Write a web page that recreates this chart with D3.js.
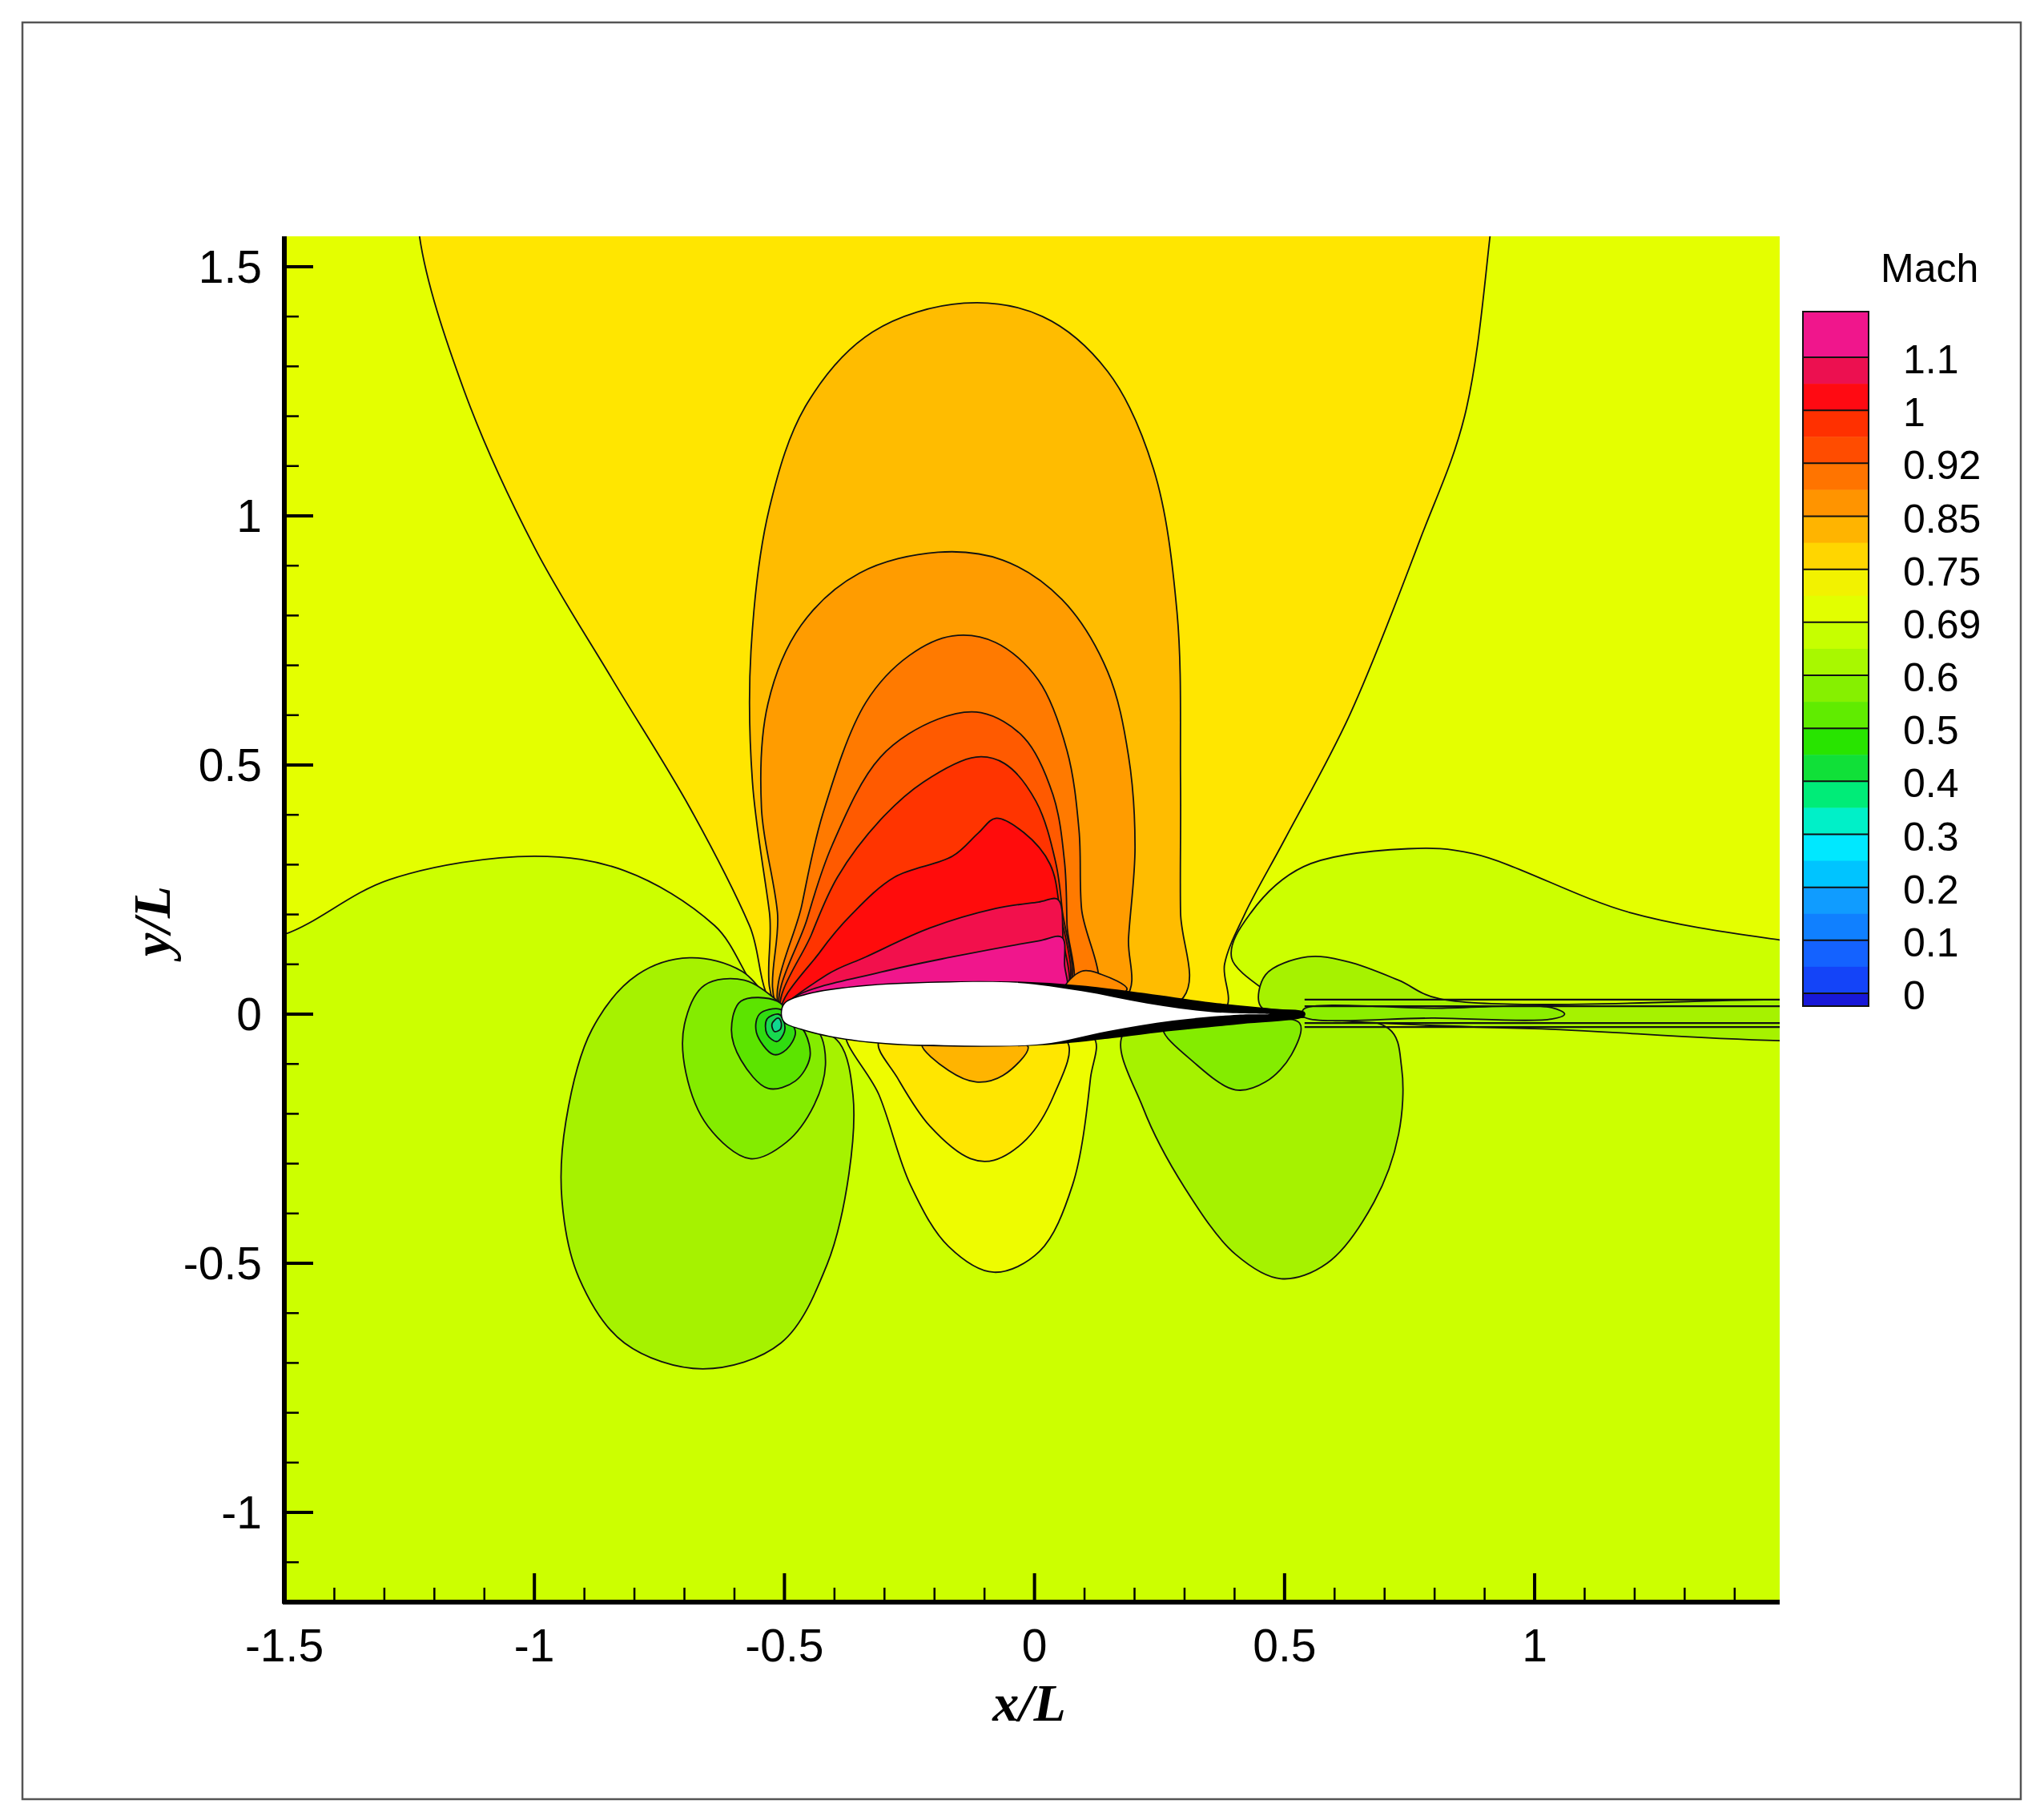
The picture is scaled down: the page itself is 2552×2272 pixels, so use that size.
<!DOCTYPE html>
<html>
<head>
<meta charset="utf-8">
<script src="https://cdn.jsdelivr.net/npm/d3@7"></script>
<style>
  body { margin: 0; background: #fff; }
  svg { display: block; }
</style>
</head>
<body>
<div id="container"></div>
<script>
// colour legend levels (top to bottom) and the two shades inside each band
const levelLabels = ["1.1", "1", "0.92", "0.85", "0.75", "0.69", "0.6", "0.5", "0.4", "0.3", "0.2", "0.1", "0"];
const bandColors = ["#f0168c",
  "#ec1050", "#ff0a12", "#ff3000", "#ff4c00", "#ff7400", "#ff9400", "#ffb400", "#ffd600",
  "#f2f200", "#e2ff00", "#c6ff00", "#a8f800", "#86f000", "#60ec00", "#28e400", "#10e038",
  "#00ec78", "#00f0c8", "#00e8ff", "#00c4ff", "#109cff", "#1080ff", "#1462ff", "#1444f8", "#1020e0"];

const xTicks = [-1.5, -1, -0.5, 0, 0.5, 1];
const yTicks = [-1, -0.5, 0, 0.5, 1, 1.5];

// contour regions, in x/L, y/L, painted in this order
const upperFar = [[-1.68,2.56],[-1.68,0.126],[-1.5,0.16],[-1.29,0.27],[-1.0,0.317],[-0.82,0.288],[-0.64,0.178],[-0.505,0],
  [0.016,-0.03],[0.51,-0.005],[0.394,0.113],[0.433,0.204],[0.538,0.296],[0.747,0.332],[0.877,0.322],[1.19,0.204],[1.49,0.149],[1.71,0.126],[1.71,2.56]];
const fan075 = [[-1.23,1.775],[-1.23,1.563],[-1.14,1.25],[-1.0,0.937],[-0.846,0.675],[-0.689,0.414],[-0.57,0.178],[-0.505,0],[0.016,-0.03],
  [0.38,0.008],[0.38,0.1],[0.42,0.2],[0.5,0.35],[0.63,0.6],[0.77,0.95],[0.86,1.2],[0.911,1.563],[0.93,1.775]];
const dome80 = [[-0.505,0],[-0.53,0.204],[-0.564,0.466],[-0.567,0.728],[-0.53,1.016],[-0.455,1.225],[-0.324,1.369],[-0.141,1.427],
  [0.016,1.40],[0.146,1.29],[0.238,1.094],[0.285,0.806],[0.292,0.466],[0.292,0.204],[0.298,0.034],[0.016,-0.045]];
const dome85 = [[-0.505,0],[-0.514,0.204],[-0.546,0.414],[-0.533,0.623],[-0.467,0.78],[-0.35,0.885],[-0.193,0.927],[-0.063,0.911],
  [0.055,0.832],[0.146,0.688],[0.188,0.518],[0.201,0.335],[0.188,0.152],[0.183,0.034],[-0.115,-0.045]];
const dome88 = [[-0.505,0],[-0.465,0.22],[-0.423,0.403],[-0.337,0.626],[-0.25,0.72],[-0.164,0.759],[-0.078,0.746],[0.008,0.67],
  [0.065,0.529],[0.089,0.369],[0.094,0.212],[0.12,0.034],[-0.193,-0.045]];
const dome92 = [[-0.505,0],[-0.455,0.19],[-0.405,0.338],[-0.308,0.516],[-0.193,0.592],[-0.107,0.605],[-0.021,0.555],[0.037,0.44],
  [0.06,0.306],[0.065,0.18],[0.068,0.034],[-0.245,-0.045]];
const dome96 = [[-0.505,0],[-0.446,0.16],[-0.394,0.275],[-0.308,0.39],[-0.222,0.466],[-0.117,0.516],[-0.06,0.503],[0.003,0.427],
  [0.042,0.306],[0.055,0.212],[0.063,0.034],[-0.245,-0.045]];
const dome100 = [[-0.505,0],[-0.428,0.126],[-0.366,0.2],[-0.28,0.275],[-0.164,0.317],[-0.112,0.364],[-0.078,0.393],[-0.021,0.364],
  [0.031,0.301],[0.05,0.212],[0.06,0.034],[-0.245,-0.045]];
const dome105 = [[-0.505,0],[-0.415,0.079],[-0.337,0.115],[-0.209,0.173],[-0.078,0.212],[0.008,0.225],[0.047,0.23],[0.057,0.152],
  [0.06,0.034],[-0.245,-0.045]];
const dome110 = [[-0.505,0],[-0.48,0.034],[-0.308,0.084],[-0.164,0.115],[0.008,0.147],[0.055,0.154],[0.06,0.1],[0.06,0.034],[-0.245,-0.045]];
const hump = [[0.06,0.05],[0.094,0.086],[0.133,0.08],[0.185,0.05],[0.1,0.02]];
const leftLobe = [[-0.505,0],[-0.585,0.086],[-0.69,0.113],[-0.794,0.079],[-0.885,-0.031],[-0.937,-0.215],[-0.945,-0.372],[-0.911,-0.529],
  [-0.82,-0.66],[-0.663,-0.712],[-0.507,-0.66],[-0.415,-0.503],[-0.371,-0.32],[-0.363,-0.162],[-0.39,-0.058],[-0.455,-0.018]];
const leftLobe2 = [[-0.501,0.016],[-0.58,0.068],[-0.66,0.058],[-0.70,-0.021],[-0.697,-0.118],[-0.653,-0.225],[-0.569,-0.29],
  [-0.496,-0.257],[-0.441,-0.183],[-0.418,-0.102],[-0.431,-0.037],[-0.467,-0.016]];
const leftRing3 = [[-0.514,0.026],[-0.587,0.026],[-0.606,-0.031],[-0.587,-0.092],[-0.533,-0.149],[-0.478,-0.134],[-0.449,-0.086],[-0.459,-0.037],[-0.478,-0.016]];
const leftRing4 = [[-0.509,0.01],[-0.55,0],[-0.556,-0.037],[-0.522,-0.081],[-0.496,-0.071],[-0.478,-0.037],[-0.491,-0.01]];
const leftRing5 = [[-0.512,0.0],[-0.535,-0.01],[-0.535,-0.04],[-0.515,-0.055],[-0.5,-0.035],[-0.503,-0.01]];
const leftRing6 = [[-0.513,-0.008],[-0.525,-0.02],[-0.52,-0.035],[-0.508,-0.03],[-0.507,-0.015]];
const midLobe = [[-0.376,-0.031],[-0.311,-0.162],[-0.248,-0.343],[-0.172,-0.466],[-0.081,-0.518],[0.01,-0.476],[0.076,-0.343],
  [0.112,-0.128],[0.117,-0.045],[-0.128,-0.031]];
const midLobe2 = [[-0.311,-0.055],[-0.274,-0.128],[-0.209,-0.225],[-0.128,-0.29],[-0.081,-0.293],[-0.016,-0.251],[0.039,-0.162],
  [0.065,-0.055],[-0.128,-0.045]];
const midLobe3 = [[-0.225,-0.06],[-0.172,-0.113],[-0.117,-0.136],[-0.063,-0.123],[-0.013,-0.065],[-0.115,-0.052]];
const rightLobe = [[0.178,-0.039],[0.217,-0.188],[0.30,-0.348],[0.402,-0.482],[0.493,-0.531],[0.585,-0.5],[0.679,-0.377],
  [0.728,-0.241],[0.734,-0.107],[0.708,-0.029],[0.433,-0.01]];
const rightLobe2 = [[0.258,-0.029],[0.319,-0.097],[0.402,-0.152],[0.462,-0.136],[0.514,-0.081],[0.53,-0.018],[0.38,-0.018]];
const wakeLobe = [[0.452,0.016],[0.462,0.079],[0.546,0.115],[0.627,0.105],[0.728,0.068],[0.809,0.031],[1.49,0.029],[1.71,0.029],
  [1.71,-0.029],[1.0,-0.029],[0.538,-0.005]];
const wakeCore = [[0.538,0.01],[0.8,0.012],[1.034,0.013],[1.06,0],[1.034,-0.01],[0.8,-0.008],[0.538,-0.005]];
const wakeLines = [0.029, 0.016, -0.018, -0.026];

const regions = [
  [upperFar, "#e4ff00"], [fan075, "#ffe600"], [dome80, "#ffbc00"], [dome85, "#ff9c00"], [dome88, "#ff7a00"],
  [dome92, "#ff5a00"], [dome96, "#ff3400"], [dome100, "#ff0c0c"], [dome105, "#f2104c"], [dome110, "#f0168c"],
  [hump, "#ff8a00"],
  [leftLobe, "#a6f200"], [leftLobe2, "#84ec00"], [leftRing3, "#5ce400"], [leftRing4, "#30dc10"],
  [leftRing5, "#18d850"], [leftRing6, "#10d890"],
  [midLobe, "#eefc00"], [midLobe2, "#ffe600"], [midLobe3, "#ffb400"],
  [rightLobe, "#a6f200"], [rightLobe2, "#84ec00"], [wakeLobe, "#a6f200"], [wakeCore, "#8cee00"]
];

const airfoil = [[-0.505,0],[-0.499,0.021],[-0.455,0.039],[-0.35,0.055],[-0.193,0.063],[-0.037,0.063],[0.094,0.055],[0.225,0.039],
  [0.355,0.021],[0.486,0.008],[0.538,0.003],[0.538,-0.003],[0.407,-0.018],[0.277,-0.031],[0.146,-0.047],[0.016,-0.06],
  [-0.141,-0.063],[-0.298,-0.058],[-0.402,-0.045],[-0.467,-0.029],[-0.499,-0.016]];

const W = 2552, H = 2272;
const L = 355, R = 2222, T = 295, B = 2000;

const svg = d3.select("#container").append("svg").attr("width", W).attr("height", H);
svg.append("rect").attr("x", 28).attr("y", 28).attr("width", 2495).attr("height", 2218)
  .attr("fill", "none").attr("stroke", "#555").attr("stroke-width", 2.5);

const x = d3.scaleLinear().domain([-1.5, 1.49]).range([L, R]);
const y = d3.scaleLinear().domain([-1.18, 1.561]).range([B, T]);

svg.append("clipPath").attr("id", "plotclip").append("rect")
  .attr("x", L).attr("y", T).attr("width", R - L).attr("height", B - T);

const plot = svg.append("g").attr("clip-path", "url(#plotclip)");
plot.append("rect").attr("x", L).attr("y", T).attr("width", R - L).attr("height", B - T).attr("fill", "#ccff00");

const area = d3.line().x(d => x(d[0])).y(d => y(d[1])).curve(d3.curveCatmullRomClosed.alpha(0.5));
regions.forEach(function(r) {
  plot.append("path").attr("d", area(r[0])).attr("fill", r[1])
    .attr("stroke", "#111").attr("stroke-width", 1.8);
});

wakeLines.forEach(function(v) {
  plot.append("line").attr("x1", x(0.54)).attr("x2", x(1.5)).attr("y1", y(v)).attr("y2", y(v))
    .attr("stroke", "#111").attr("stroke-width", 2.2);
});

// airfoil with the dark boundary-layer band on its aft part
const foil = d3.line().x(d => x(d[0])).y(d => y(d[1])).curve(d3.curveCatmullRomClosed.alpha(0.5));
plot.append("path").attr("d", foil(airfoil)).attr("fill", "#000").attr("stroke", "#000").attr("stroke-width", 3);
const inner = airfoil.filter(d => d[0] < 0.47).map(d => [d[0], d[0] > 0.05 ? d[1] * (1 - (d[0] - 0.05) / 0.5) - (d[1] > 0 ? 0.004 : -0.004) : d[1]]);
inner.splice(inner.findIndex(d => d[1] < 0 && d[0] > 0.3), 0, [0.47, 0.0]);
plot.append("path").attr("d", foil(inner)).attr("fill", "#fff");

// axes
const ax = svg.append("g");
ax.append("line").attr("x1", L).attr("x2", L).attr("y1", T).attr("y2", B + 2).attr("stroke", "#000").attr("stroke-width", 6);
ax.append("line").attr("x1", L - 2).attr("x2", R).attr("y1", B).attr("y2", B).attr("stroke", "#000").attr("stroke-width", 6);

d3.range(-1.5, 1.5, 0.1).forEach(function(v) {
  const major = xTicks.some(t => Math.abs(t - v) < 1e-6);
  ax.append("line").attr("x1", x(v)).attr("x2", x(v)).attr("y1", B).attr("y2", B - (major ? 36 : 18))
    .attr("stroke", "#000").attr("stroke-width", major ? 4 : 2.5);
});
d3.range(-1.1, 1.56, 0.1).forEach(function(v) {
  const major = yTicks.some(t => Math.abs(t - v) < 1e-6);
  ax.append("line").attr("x1", L).attr("x2", L + (major ? 36 : 18)).attr("y1", y(v)).attr("y2", y(v))
    .attr("stroke", "#000").attr("stroke-width", major ? 4 : 2.5);
});

xTicks.forEach(function(v) {
  ax.append("text").attr("x", x(v)).attr("y", B + 74).attr("text-anchor", "middle")
    .attr("font-family", "Liberation Sans, Arial, sans-serif").attr("font-size", 57).text(String(v));
});
yTicks.forEach(function(v) {
  ax.append("text").attr("x", L - 28).attr("y", y(v) + 20).attr("text-anchor", "end")
    .attr("font-family", "Liberation Sans, Arial, sans-serif").attr("font-size", 57).text(String(v));
});
svg.append("text").attr("x", 1285).attr("y", 2148).attr("text-anchor", "middle")
  .attr("font-family", "Liberation Serif, Times New Roman, serif").attr("font-weight", "bold").attr("font-style", "italic")
  .attr("font-size", 66).text("x/L");
svg.append("text").attr("transform", "translate(212,1150) rotate(-90)").attr("text-anchor", "middle")
  .attr("font-family", "Liberation Serif, Times New Roman, serif").attr("font-weight", "bold").attr("font-style", "italic")
  .attr("font-size", 66).text("y/L");

// colour legend
const cbX = 2251, cbW = 82, cbTop = 389, cbFirst = 446, cbLast = 1240, cbBottom = 1256;
const ly = d3.scalePoint().domain(levelLabels).range([cbFirst, cbLast]);
const step = ly.step();
const leg = svg.append("g");
leg.append("rect").attr("x", cbX).attr("y", cbTop).attr("width", cbW).attr("height", cbFirst - cbTop).attr("fill", bandColors[0]);
levelLabels.slice(0, -1).forEach(function(lab, i) {
  const y0 = ly(lab);
  leg.append("rect").attr("x", cbX).attr("y", y0).attr("width", cbW).attr("height", step / 2 + 0.5).attr("fill", bandColors[1 + 2 * i]);
  leg.append("rect").attr("x", cbX).attr("y", y0 + step / 2).attr("width", cbW).attr("height", step / 2 + 0.5).attr("fill", bandColors[2 + 2 * i]);
});
leg.append("rect").attr("x", cbX).attr("y", cbLast).attr("width", cbW).attr("height", cbBottom - cbLast).attr("fill", "#1818d8");
levelLabels.forEach(function(lab) {
  leg.append("line").attr("x1", cbX).attr("x2", cbX + cbW).attr("y1", ly(lab)).attr("y2", ly(lab)).attr("stroke", "#111").attr("stroke-width", 2);
  leg.append("text").attr("x", 2376).attr("y", ly(lab) + 20).attr("font-family", "Liberation Sans, Arial, sans-serif")
    .attr("font-size", 50).text(lab);
});
leg.append("rect").attr("x", cbX).attr("y", cbTop).attr("width", cbW).attr("height", cbBottom - cbTop)
  .attr("fill", "none").attr("stroke", "#111").attr("stroke-width", 2);
leg.append("text").attr("x", 2348).attr("y", 352).attr("font-family", "Liberation Sans, Arial, sans-serif")
  .attr("font-size", 50).text("Mach");
</script>
</body>
</html>
